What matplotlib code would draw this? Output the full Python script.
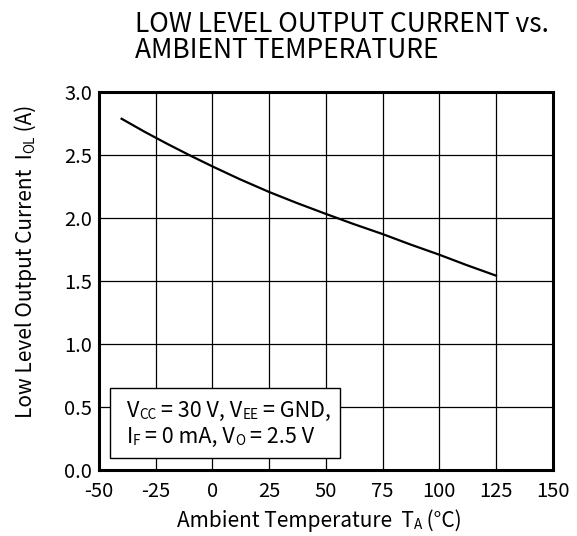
import matplotlib
matplotlib.use("Agg")
import matplotlib.pyplot as plt
from matplotlib.patches import Rectangle

plt.rcParams['font.family'] = ['Noto Sans CJK JP', 'DejaVu Sans']

# data
temp = [-40, -30, -20, -10, 0, 12, 25, 37, 50, 62, 75, 87, 100, 112, 125]
iol = [2.785, 2.683, 2.587, 2.495, 2.407, 2.306, 2.204, 2.118, 2.03, 1.951, 1.87,
       1.789, 1.706, 1.624, 1.54]

xticks = [-50, -25, 0, 25, 50, 75, 100, 125, 150]
yticks = [0.0, 0.5, 1.0, 1.5, 2.0, 2.5, 3.0]

BIG = 15.5
SMALL = 9.8


def rich(first, parts, rot=False):
    # chain small/large text pieces one after another
    t = first
    for s, fs in parts:
        if rot:
            t = ax.annotate(s, xy=(1, 1), xycoords=t, ha='right', va='bottom',
                            rotation=90, fontsize=fs, zorder=5)
        else:
            t = ax.annotate(s, xy=(1, 0), xycoords=t, ha='left', va='bottom',
                            fontsize=fs, zorder=5)
    return t


fig = plt.figure(figsize=(5.77, 5.36), dpi=100)
ax = fig.add_axes([0.1714, 0.1237, 0.958 - 0.1714, 0.829 - 0.1237])

ax.plot(temp, iol, color='black', lw=1.6, zorder=3, solid_joinstyle='round')

ax.set_xlim(-50, 150)
ax.set_ylim(0, 3.0)
ax.set_xticks(xticks)
ax.set_yticks(yticks)
ax.set_xticklabels([str(v) for v in xticks])
ax.set_yticklabels(['%.1f' % v for v in yticks])
ax.tick_params(length=0, labelsize=14.5)
ax.tick_params(axis='x', pad=8)
ax.tick_params(axis='y', pad=5)
ax.grid(True, color='black', lw=0.9)
ax.set_axisbelow(True)
for sp in ax.spines.values():
    sp.set_linewidth(2.2)

# condition box
ax.add_patch(Rectangle((-45.1, 0.093), 101.2, 0.555, facecolor='white',
                       edgecolor='black', lw=1.0, zorder=4))
l1 = ax.text(-37.8, 0.421, 'V', fontsize=BIG, va='baseline', zorder=5)
rich(l1, [('CC', SMALL), (' = 30 V, V', BIG), ('EE', SMALL), (' = GND,', BIG)])
l2 = ax.text(-37.8, 0.209, 'I', fontsize=BIG, va='baseline', zorder=5)
rich(l2, [('F', SMALL), (' = 0 mA, V', BIG), ('O', SMALL), (' = 2.5 V', BIG)])

# axis labels
xl = fig.text(177 / 577, 1 - 526.7 / 536, 'Ambient Temperature  T', fontsize=15,
              va='baseline')
rich(xl, [('A', SMALL), (' (°C)', 15)])
yl = fig.text(37 / 577, 1 - 418 / 536, 'Low Level Output Current  I', fontsize=15,
              rotation=90, ha='right', va='bottom')
rich(yl, [('OL', SMALL), (' (A)', 15)], rot=True)

fig.text(135 / 577, 1 - 11 / 536, 'LOW LEVEL OUTPUT CURRENT vs.\nAMBIENT TEMPERATURE',
         fontsize=19, va='top', ha='left', linespacing=0.95)

fig.savefig('out.png', dpi=100)
